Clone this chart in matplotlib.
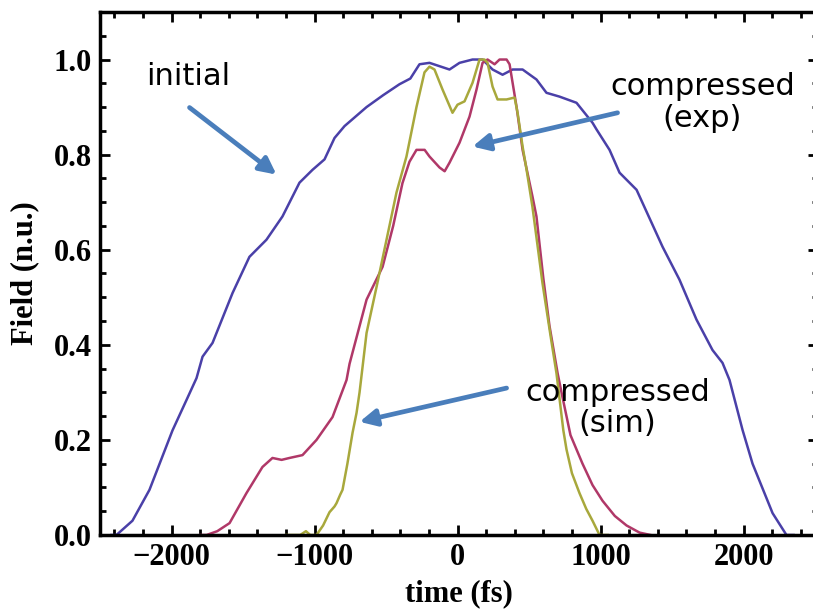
"""Pulse field profiles: initial vs compressed (exp / sim)."""

import matplotlib.pyplot as plt
from matplotlib.ticker import MultipleLocator, FormatStrFormatter

# initial pulse (blue)
t_init = [-2420, -2385, -2273, -2154, -1993, -1895, -1825, -1783, -1713, -1573,
          -1455, -1336, -1224, -1105, -1014, -930, -860, -790, -636, -520,
          -406, -330, -266, -196, -126, -56, 14, 105, 175, 245,
          315, 385, 455, 552, 622, 713, 832, 944, 972, 1063,
          1133, 1252, 1434, 1552, 1671, 1783, 1853, 1902, 1993, 2063,
          2203, 2300, 2350]
f_init = [0.0, 0.0, 0.03, 0.095, 0.22, 0.284, 0.33, 0.375, 0.404, 0.509,
          0.585, 0.621, 0.67, 0.741, 0.768, 0.79, 0.835, 0.86, 0.90, 0.925,
          0.948, 0.96, 0.99, 0.993, 0.986, 0.979, 0.993, 1.0, 1.0, 0.979,
          0.968, 0.979, 0.979, 0.958, 0.93, 0.922, 0.909, 0.867, 0.853, 0.81,
          0.762, 0.726, 0.606, 0.537, 0.453, 0.389, 0.362, 0.326, 0.221, 0.15,
          0.046, 0.0, 0.0]

# compressed, experiment (red)
t_exp = [-1800, -1755, -1680, -1594, -1476, -1364, -1294, -1230, -1175, -1084,
         -986, -874, -776, -755, -636, -524, -450, -385, -336, -287,
         -230, -196, -126, -90, -56, 14, 84, 133, 175, 210,
         259, 294, 343, 364, 413, 455, 524, 552, 600, 643,
         700, 734, 790, 874, 944, 1014, 1100, 1182, 1273, 1350]
f_exp = [0.0, 0.0, 0.008, 0.025, 0.088, 0.143, 0.162, 0.158, 0.162, 0.168,
         0.2, 0.248, 0.326, 0.36, 0.495, 0.564, 0.65, 0.74, 0.785, 0.81,
         0.81, 0.796, 0.773, 0.765, 0.783, 0.825, 0.88, 0.937, 0.993, 1.0,
         0.99, 1.0, 1.0, 0.99, 0.90, 0.81, 0.712, 0.67, 0.54, 0.44,
         0.34, 0.29, 0.21, 0.15, 0.105, 0.072, 0.04, 0.02, 0.005, 0.0]

# compressed, simulation (olive)
t_sim = [-1200, -1100, -1060, -1030, -986, -940, -895, -860, -846, -820,
         -804, -770, -734, -706, -685, -636, -566, -476, -427, -357,
         -287, -231, -196, -161, -105, -35, 0, 49, 105, 154,
         189, 210, 245, 280, 343, 399, 420, 455, 483, 524,
         594, 650, 692, 740, 762, 800, 853, 900, 944, 993, 1050]
f_sim = [0.0, 0.0, 0.008, 0.0, 0.0, 0.02, 0.048, 0.06, 0.067, 0.085,
         0.095, 0.15, 0.215, 0.257, 0.30, 0.425, 0.522, 0.65, 0.72, 0.796,
         0.90, 0.973, 0.985, 0.979, 0.937, 0.888, 0.905, 0.912, 0.951, 1.0,
         1.0, 0.993, 0.943, 0.916, 0.916, 0.92, 0.888, 0.817, 0.768, 0.69,
         0.53, 0.42, 0.34, 0.22, 0.18, 0.13, 0.088, 0.055, 0.03, 0.0, 0.0]

fig = plt.figure(figsize=(8.13, 6.11), dpi=100)
# the source image is cropped just left of the right frame line
ax = fig.add_axes([0.123, 0.1244, 0.8832, 0.856])

ax.plot(t_init, f_init, color="#4a40a8", lw=1.8)
ax.plot(t_exp, f_exp, color="#b03868", lw=1.8)
ax.plot(t_sim, f_sim, color="#a8a83c", lw=1.8)

ax.set_xlim(-2500, 2521)
ax.set_ylim(0, 1.1)
ax.xaxis.set_major_locator(MultipleLocator(1000))
ax.xaxis.set_minor_locator(MultipleLocator(200))
ax.yaxis.set_major_locator(MultipleLocator(0.2))
ax.yaxis.set_minor_locator(MultipleLocator(0.05))
ax.yaxis.set_major_formatter(FormatStrFormatter("%.1f"))

for s in ax.spines.values():
    s.set_linewidth(2.5)
ax.tick_params(which="both", direction="in", top=True, right=True,
               width=2, colors="black")
ax.tick_params(which="major", length=7, pad=6)
ax.tick_params(which="minor", length=4)
for lab in ax.get_xticklabels() + ax.get_yticklabels():
    lab.set_fontfamily("Liberation Serif")
    lab.set_fontweight("bold")
    lab.set_fontsize(22)

ax.set_xlabel("time (fs)", fontfamily="Liberation Serif", fontweight="bold",
              fontsize=22, labelpad=5)
ax.set_ylabel("Field (n.u.)", fontfamily="Liberation Serif", fontweight="bold",
              fontsize=22, labelpad=10)

arrow = dict(arrowstyle="-|>", lw=3.4, color="#4a7ebb", mutation_scale=25,
             shrinkA=0, shrinkB=0)
txt = dict(fontfamily="DejaVu Sans", fontsize=22, ha="center", va="center",
           linespacing=1.12)

ax.annotate("", xy=(-1266, 0.758), xytext=(-1874, 0.899), arrowprops=arrow,
            zorder=4)
ax.annotate("", xy=(105, 0.817), xytext=(1119, 0.888), arrowprops=arrow,
            zorder=4)
ax.annotate("", xy=(-685, 0.238), xytext=(343, 0.309), arrowprops=arrow,
            zorder=4)

ax.text(-1881, 0.964, "initial", **txt)
# white patch behind the (exp) label sits under the curves
ax.text(1713, 0.909, "compressed\n(exp)", zorder=1,
        bbox=dict(facecolor="white", edgecolor="none", pad=8), **txt)
ax.text(1119, 0.267, "compressed\n(sim)", **txt)

fig.savefig("out.png", dpi=100)
